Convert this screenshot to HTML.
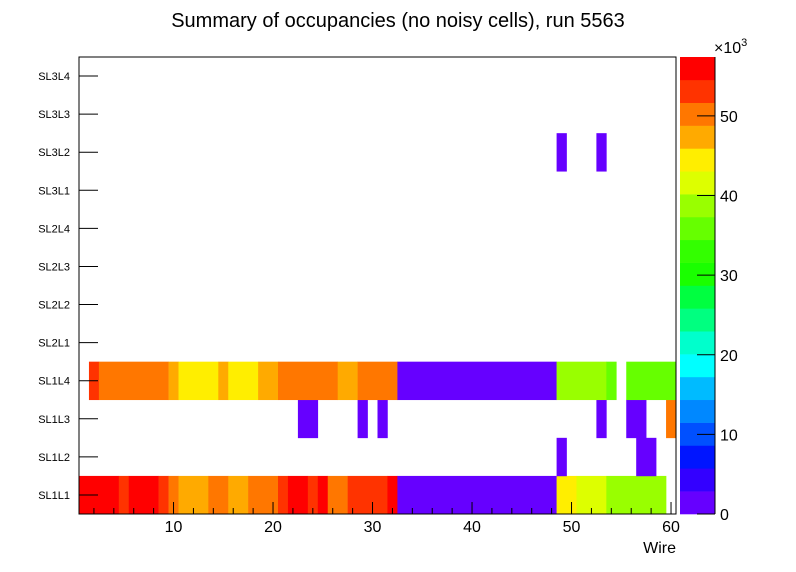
<!DOCTYPE html>
<html><head><meta charset="utf-8"><style>
body{margin:0;background:#fff}
svg{display:block;font-family:"Liberation Sans",Arial,sans-serif}
</style></head><body>
<svg id="c" width="796" height="572" xmlns="http://www.w3.org/2000/svg">
<rect width="796" height="572" fill="#fff"/>
<text x="398" y="27" text-anchor="middle" font-size="20">Summary of occupancies (no noisy cells), run 5563</text>
<g id="cells"></g>
<g id="axes"></g>
<g id="pal"></g>
</svg>
<script>
const layers = ["SL1L1","SL1L2","SL1L3","SL1L4","SL2L1","SL2L2","SL2L3","SL2L4","SL3L1","SL3L2","SL3L3","SL3L4"];
const xTicks = [10,20,30,40,50,60];
const zTicks = [0,10,20,30,40,50];
// palette level per cell [layerIndex, firstWire, lastWire, level(0-19)]
const cellRuns = [
[0,1,4,19],[0,5,5,18],[0,6,8,19],[0,9,9,18],[0,10,10,17],[0,11,13,16],[0,14,15,17],[0,16,17,16],[0,18,20,17],[0,21,21,18],[0,22,23,19],[0,24,24,18],[0,25,25,19],[0,26,27,17],[0,28,31,18],[0,32,32,19],[0,33,48,0],[0,49,50,15],[0,51,53,14],[0,54,59,13],
[1,49,49,0],[1,57,58,0],
[2,23,24,0],[2,29,29,0],[2,31,31,0],[2,53,53,0],[2,56,57,0],[2,60,60,17],
[3,2,2,18],[3,3,9,17],[3,10,10,16],[3,11,14,15],[3,15,15,16],[3,16,18,15],[3,19,20,16],[3,21,26,17],[3,27,28,16],[3,29,32,17],[3,33,48,0],[3,49,53,13],[3,54,54,12],[3,56,60,12],
[9,49,49,0],[9,53,53,0]
];
const palette = ["#6600ff","#3300ff","#0015ff","#0050ff","#0088ff","#00bbff","#00ffff","#00ffcc","#00ff80","#00ff40","#1aff00","#33ff00","#66ff00","#99ff00","#ddff00","#ffee00","#ffaa00","#ff7700","#ff3300","#ff0000"];
const zMax = 57.4;

const NS="http://www.w3.org/2000/svg";
const L=79,R=676,T=57,B=514;
const xs=v=>L+(v-0.5)/60*(R-L);
const ys=i=>B-i*(B-T)/12;
const zs=v=>B-v/zMax*(B-T);
function mk(tag,at,parent){const e=document.createElementNS(NS,tag);for(const k in at)e.setAttribute(k,at[k]);parent.appendChild(e);return e;}
const cells=document.getElementById('cells'),axes=document.getElementById('axes'),pal=document.getElementById('pal');
cellRuns.forEach(r=>{
  const e=mk('rect',{x:xs(r[1]-0.5),y:ys(r[0]+1),width:xs(r[2]+0.5)-xs(r[1]-0.5)+0.3,height:ys(r[0])-ys(r[0]+1)+0.3,fill:palette[r[3]]},cells);
  
  
});
const fr=mk('rect',{x:L,y:T,width:R-L,height:B-T,fill:'none',stroke:'#000','stroke-width':1},axes);


for(let v=2;v<=60;v+=2){
  const maj=v%10===0;
  mk('line',{x1:xs(v),x2:xs(v),y1:B,y2:B-(maj?12:6),stroke:'#000'},axes);
}
xTicks.forEach(v=>{
  const t=mk('text',{x:xs(v),y:532,'font-size':16,'text-anchor':'middle'},axes);
  t.textContent=v;
  
  
});
const xt=mk('text',{x:676,y:553,'font-size':16,'text-anchor':'end'},axes);
xt.textContent='Wire';


layers.forEach((n,i)=>{
  const yc=(ys(i)+ys(i+1))/2;
  mk('line',{x1:L,x2:L+19,y1:yc,y2:yc,stroke:'#000'},axes);
  const t=mk('text',{x:70,y:yc+4,'font-size':11,'text-anchor':'end'},axes);
  t.textContent=n;
  
  
});
const PL=680,PR=715;
palette.forEach((c,k)=>{
  const e=mk('rect',{x:PL,y:zs((k+1)*zMax/20),width:PR-PL,height:zs(k*zMax/20)-zs((k+1)*zMax/20)+0.3,fill:c},pal);
  
  
});
mk('line',{x1:PR,x2:PR,y1:T,y2:B,stroke:'#000'},pal);
zTicks.forEach(v=>{
  mk('line',{x1:PR-18,x2:PR,y1:zs(v),y2:zs(v),stroke:'#000'},pal);
  const t=mk('text',{x:720,y:zs(v)+6,'font-size':16},pal);
  t.textContent=v;
  
  
});
for(let v=2;v<zMax;v+=2){ if(v%10) mk('line',{x1:PR-9,x2:PR,y1:zs(v),y2:zs(v),stroke:'#000','stroke-opacity':0},pal); }
const ex=mk('text',{x:714,y:53,'font-size':16},pal);
ex.innerHTML='×10<tspan dy="-7" font-size="11">3</tspan>';


</script>
</body></html>
